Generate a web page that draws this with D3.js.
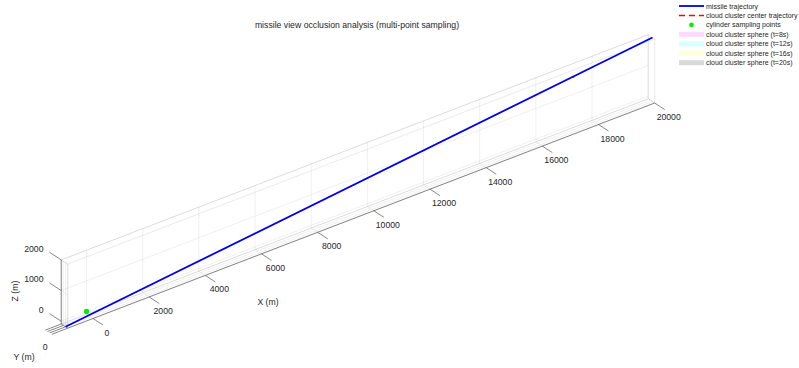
<!DOCTYPE html>
<html>
<head>
<meta charset="utf-8">
<script src="https://cdn.jsdelivr.net/npm/d3@7"></script>
<style>
  body { margin: 0; background: #fff; }
  text { font-family: Arial, "Liberation Sans", Helvetica, sans-serif; fill: #262626; }
</style>
</head>
<body>
<svg id="chart" width="799" height="368"></svg>
<script>
// axis limits / ticks (axis equal, tight)
const xLim = [-900, 20000];
const yLim = [-100, 200];
const zLim = [-90, 2000];
const xTicks = [0, 2000, 4000, 6000, 8000, 10000, 12000, 14000, 16000, 18000, 20000];
const yTicks = [-100, 0, 100, 200];
const yTickLabels = ["", "0", "", ""];
const zTicks = [0, 1000, 2000];

// missile M1 trajectory (start, end)
const missileX = [20000, -900];
const missileY = [0, 0];
const missileZ = [2000, -90];

// cloud cluster centre trajectory (sinking after detonation)
const cloudX = [17188, 17188];
const cloudY = [0, 0];
const cloudZ = [1736, 1676];

// cloud spheres at t = 8, 12, 16, 20 s
const sphereTimes = ["8s", "12s", "16s", "20s"];
const sphereZ = [1727, 1715, 1703, 1691];
const sphereR = 10;
const sphereColors = ["#ff00ff", "#00ffff", "#ffff00", "#000000"];

// cylinder sampling points (real target)
const sampleX = [7, 0, -7, 0, 7, 0, -7, 0];
const sampleY = [200, 207, 200, 193, 200, 207, 200, 193];
const sampleZ = [0, 0, 0, 0, 10, 10, 10, 10];

const legendLabels = [
  "missile trajectory",
  "cloud cluster center trajectory",
  "cylinder sampling points",
  ...sphereTimes.map(t => `cloud cluster sphere (t=${t})`)
];

const svg = d3.select("#chart");
svg.append("rect").attr("width", 799).attr("height", 368).attr("fill", "#fff");

// view(3): az = -37.5, el = 30
const deg = Math.PI / 180;
const az = -37.5 * deg, el = 30 * deg;
const pxPerM = 0.0354;
const origin = [67.7, 328.2];

const xS = d3.scaleLinear().domain(xLim).range([0, (xLim[1] - xLim[0]) * pxPerM]);
const yS = d3.scaleLinear().domain(yLim).range([0, (yLim[1] - yLim[0]) * pxPerM]);
const zS = d3.scaleLinear().domain(zLim).range([0, (zLim[1] - zLim[0]) * pxPerM]);

function proj(x, y, z) {
  const u = xS(x), v = yS(y), w = zS(z);
  return [
    origin[0] + Math.cos(az) * u + Math.sin(az) * v,
    origin[1] - (-Math.sin(el) * Math.sin(az) * u + Math.sin(el) * Math.cos(az) * v + Math.cos(el) * w)
  ];
}
function unit(a, b) {
  const dx = b[0] - a[0], dy = b[1] - a[1], l = Math.hypot(dx, dy);
  return [dx / l, dy / l];
}

const [x0, x1] = xLim, [y0, y1] = yLim, [z0, z1] = zLim;
const dX = unit(proj(x0, y0, z0), proj(x1, y0, z0));
const dY = unit(proj(x0, y0, z0), proj(x0, y1, z0));

// grid lines on the three back planes
const gridSegs = [];
xTicks.forEach(t => {
  gridSegs.push([[t, y1, z0], [t, y1, z1]]);
  gridSegs.push([[t, y0, z0], [t, y1, z0]]);
});
zTicks.forEach(t => {
  gridSegs.push([[x0, y1, t], [x1, y1, t]]);
  gridSegs.push([[x0, y0, t], [x0, y1, t]]);
});
yTicks.forEach(t => {
  gridSegs.push([[x0, t, z0], [x0, t, z1]]);
  gridSegs.push([[x0, t, z0], [x1, t, z0]]);
});

// box edges
const boxSegs = [
  [[x0, y0, z1], [x1, y0, z1]], [[x0, y1, z1], [x1, y1, z1]], [[x1, y1, z0], [x1, y1, z1]],
  [[x0, y0, z1], [x0, y1, z1]], [[x1, y0, z1], [x1, y1, z1]], [[x1, y0, z0], [x1, y1, z0]],
  [[x1, y0, z0], [x1, y0, z1]], [[x0, y0, z0], [x0, y0, z1]], [[x0, y1, z0], [x1, y1, z0]]
];

function drawSegs(g, segs) {
  g.selectAll("line").data(segs).join("line")
    .attr("x1", d => proj(...d[0])[0]).attr("y1", d => proj(...d[0])[1])
    .attr("x2", d => proj(...d[1])[0]).attr("y2", d => proj(...d[1])[1]);
}

drawSegs(svg.append("g").attr("stroke", "#262626").attr("stroke-opacity", 0.09).attr("stroke-width", 0.8), gridSegs);
drawSegs(svg.append("g").attr("stroke", "#262626").attr("stroke-opacity", 0.14).attr("stroke-width", 0.7), boxSegs);

// axis lines
const axisSegs = [
  [[x0, y0, z0], [x1, y0, z0]],
  [[x0, y0, z0], [x0, y1, z0]],
  [[x0, y1, z0], [x0, y1, z1]]
];
const axisG = svg.append("g").attr("stroke", "#555").attr("stroke-width", 0.7);
drawSegs(axisG, axisSegs);

// ticks
const tickG = svg.append("g").attr("stroke", "#555").attr("stroke-width", 0.7);
const xTickLen = 12, yTickLen = 17, zTickLen = 14;
const xt = xTicks.map(t => { const p = proj(t, y0, z0); return { t, p, e: [p[0] - dY[0] * xTickLen, p[1] - dY[1] * xTickLen] }; });
const yt = yTicks.map((t, i) => { const p = proj(x0, t, z0); return { t: yTickLabels[i], p, e: [p[0] - dX[0] * yTickLen, p[1] - dX[1] * yTickLen] }; });
const zt = zTicks.map(t => { const p = proj(x0, y1, t); return { t, p, e: [p[0] + dY[0] * zTickLen, p[1] + dY[1] * zTickLen] }; });

tickG.selectAll("line").data([...xt, ...yt, ...zt]).join("line")
  .attr("x1", d => d.p[0]).attr("y1", d => d.p[1])
  .attr("x2", d => d.e[0]).attr("y2", d => d.e[1]);

const labG = svg.append("g").style("font-size", "8.7px");
labG.selectAll("text.xt").data(xt).join("text").attr("class", "xt")
  .attr("x", d => d.e[0] + 4).attr("y", d => d.e[1] + 10.5)
  .attr("text-anchor", "middle").text(d => d.t);
labG.selectAll("text.yt").data(yt).join("text").attr("class", "yt")
  .attr("x", d => d.e[0] - 4.5).attr("y", d => d.e[1] + 17)
  .attr("text-anchor", "middle").text(d => d.t);
labG.selectAll("text.zt").data(zt).join("text").attr("class", "zt")
  .attr("x", d => d.e[0] - 6).attr("y", d => d.e[1] - 0.5)
  .attr("text-anchor", "end").text(d => d.t);

labG.append("text").attr("x", 268).attr("y", 304.5).attr("text-anchor", "middle").text("X (m)");
labG.append("text").attr("x", 24).attr("y", 360).attr("text-anchor", "middle").text("Y (m)");
labG.append("text").attr("transform", "translate(18,291) rotate(-90)").attr("text-anchor", "middle").text("Z (m)");

// data layers
const line3 = d3.line();
const pts = (X, Y, Z) => X.map((x, i) => proj(x, Y[i], Z[i]));

svg.append("g").selectAll("circle").data(sphereZ).join("circle")
  .attr("cx", z => proj(cloudX[0], cloudY[0], z)[0])
  .attr("cy", z => proj(cloudX[0], cloudY[0], z)[1])
  .attr("r", sphereR * pxPerM)
  .attr("fill", (z, i) => sphereColors[i]).attr("fill-opacity", 0.15);

svg.append("path").attr("d", line3(pts(cloudX, cloudY, cloudZ)))
  .attr("fill", "none").attr("stroke", "#ff0000").attr("stroke-width", 1.5).attr("stroke-dasharray", "6,4");

svg.append("path").attr("d", line3(pts(missileX, missileY, missileZ)))
  .attr("fill", "none").attr("stroke", "#0000e6").attr("stroke-width", 1.8);

svg.append("g").selectAll("circle").data(pts(sampleX, sampleY, sampleZ)).join("circle")
  .attr("cx", d => d[0]).attr("cy", d => d[1]).attr("r", 2.2).attr("fill", "#00ee00");

// title
svg.append("text").attr("x", 357).attr("y", 28).attr("text-anchor", "middle")
  .style("font-size", "8.7px").text("missile view occlusion analysis (multi-point sampling)");

// legend
const leg = svg.append("g").attr("transform", "translate(679,6)");
const rowH = 9.45;
const rows = leg.selectAll("g").data(legendLabels).join("g")
  .attr("transform", (d, i) => `translate(0,${i * rowH})`);
rows.append("text").attr("x", 27).attr("y", 2.5).style("font-size", "7px").text(d => d);
rows.each(function (d, i) {
  const g = d3.select(this);
  if (i === 0) {
    g.append("line").attr("x1", 0).attr("x2", 25).attr("stroke", "#0000e6").attr("stroke-width", 1.8);
  } else if (i === 1) {
    g.append("line").attr("x1", 0).attr("x2", 25).attr("stroke", "#ff0000").attr("stroke-width", 1.5).attr("stroke-dasharray", "6,4");
  } else if (i === 2) {
    g.append("circle").attr("cx", 12.5).attr("r", 2.3).attr("fill", "#00ee00");
  } else {
    g.append("rect").attr("x", 0).attr("y", -2.5).attr("width", 25).attr("height", 5)
      .attr("fill", sphereColors[i - 3]).attr("fill-opacity", 0.15);
  }
});
</script>
</body>
</html>
